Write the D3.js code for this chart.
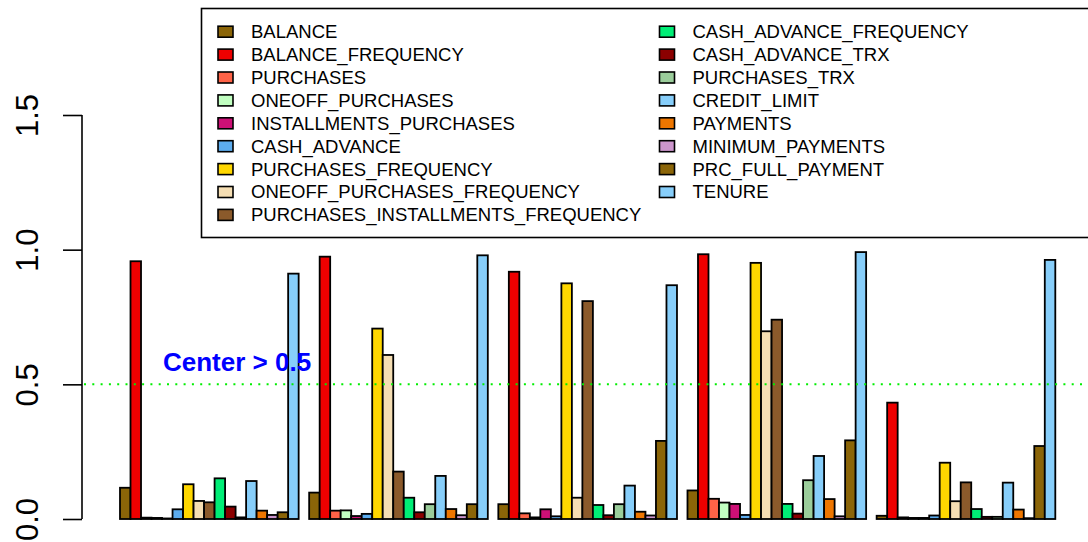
<!DOCTYPE html>
<html>
<head>
<meta charset="utf-8">
<script src="https://cdn.jsdelivr.net/npm/d3@7"></script>
<style>
  html, body { margin: 0; padding: 0; background: #fff; }
  svg { display: block; font-family: "Liberation Sans", Arial, Helvetica, sans-serif; }
</style>
</head>
<body>
<svg id="chart" width="1088" height="542"></svg>
<script>
const clusters = ["1", "2", "3", "4", "5"];
const variables = [
  "BALANCE", "BALANCE_FREQUENCY", "PURCHASES", "ONEOFF_PURCHASES",
  "INSTALLMENTS_PURCHASES", "CASH_ADVANCE", "PURCHASES_FREQUENCY",
  "ONEOFF_PURCHASES_FREQUENCY", "PURCHASES_INSTALLMENTS_FREQUENCY",
  "CASH_ADVANCE_FREQUENCY", "CASH_ADVANCE_TRX", "PURCHASES_TRX",
  "CREDIT_LIMIT", "PAYMENTS", "MINIMUM_PAYMENTS", "PRC_FULL_PAYMENT", "TENURE"
];
const colors = [
  "#8B6508", "#EE0000", "#FF6347", "#C1FFC1", "#CD1076", "#5CACEE",
  "#FFD700", "#F5DEB3", "#8B5A2B", "#00EE76", "#8B0000", "#9BCD9B",
  "#87CEFA", "#EE7600", "#CD96CD", "#8B6508", "#87CEFA"
];
const cluster1 = [0.116, 0.957, 0.005, 0.004, 0.002, 0.036, 0.129, 0.067, 0.062, 0.151, 0.046, 0.006, 0.141, 0.031, 0.015, 0.025, 0.911];
const cluster2 = [0.098, 0.974, 0.031, 0.032, 0.011, 0.019, 0.707, 0.609, 0.176, 0.079, 0.025, 0.055, 0.160, 0.037, 0.014, 0.055, 0.979];
const cluster3 = [0.055, 0.918, 0.021, 0.006, 0.036, 0.010, 0.875, 0.079, 0.809, 0.052, 0.014, 0.055, 0.124, 0.027, 0.013, 0.290, 0.868];
const cluster4 = [0.106, 0.983, 0.075, 0.061, 0.056, 0.015, 0.951, 0.697, 0.740, 0.056, 0.020, 0.144, 0.234, 0.074, 0.010, 0.292, 0.991];
const cluster5 = [0.012, 0.432, 0.006, 0.004, 0.004, 0.013, 0.209, 0.066, 0.136, 0.037, 0.008, 0.008, 0.135, 0.035, 0.003, 0.271, 0.962];
const yTicks = [0, 0.5, 1.0, 1.5];
const thresholdValue = 0.5;
const thresholdLabel = "Center > 0.5";

const seriesByCluster = [cluster1, cluster2, cluster3, cluster4, cluster5];

const svg = d3.select("#chart");

const y = d3.scaleLinear().domain([0, 1.5]).range([519, 115]);
const x0 = d3.scaleBand().domain(clusters).range([120, 1055.3]).paddingInner(1 / 18).paddingOuter(0);
const x1 = d3.scaleBand().domain(variables).range([0, x0.bandwidth()]).padding(0);

// bars
const groups = svg.append("g").selectAll("g")
  .data(clusters)
  .join("g")
  .attr("transform", d => `translate(${x0(d)},0)`);

groups.selectAll("rect")
  .data((c, i) => variables.map((v, j) => ({ v, j, value: seriesByCluster[i][j] })))
  .join("rect")
  .attr("x", d => x1(d.v))
  .attr("y", d => y(d.value))
  .attr("width", x1.bandwidth())
  .attr("height", d => y(0) - y(d.value))
  .attr("fill", d => colors[d.j])
  .attr("stroke", "#000")
  .attr("stroke-width", 1.8);

// y axis
const axis = d3.axisLeft(y).tickValues(yTicks).tickSize(19).tickFormat(d3.format(".1f"));
const ag = svg.append("g").attr("transform", "translate(82,0)").call(axis);
ag.select(".domain").attr("stroke", "#000").attr("stroke-width", 1.6).attr("d", `M0,${y(0)}V${y(1.5)}`);
ag.selectAll(".tick line").attr("stroke", "#000").attr("stroke-width", 1.6);
ag.selectAll(".tick text")
  .attr("x", null).attr("dy", null).attr("dx", null)
  .attr("transform", "translate(-44,0) rotate(-90)")
  .attr("text-anchor", "middle")
  .attr("font-size", 31)
  .attr("font-family", '"Liberation Sans", Arial, sans-serif')
  .attr("fill", "#000");

// threshold line
svg.append("line")
  .attr("x1", 84).attr("x2", 1088)
  .attr("y1", y(thresholdValue)).attr("y2", y(thresholdValue))
  .attr("stroke", "#00EE00")
  .attr("stroke-width", 2)
  .attr("stroke-dasharray", "2,6.3");

svg.append("text")
  .attr("x", 163)
  .attr("y", y(thresholdValue) - 13)
  .attr("fill", "#0000FF")
  .attr("font-weight", "bold")
  .attr("font-size", 26)
  .text(thresholdLabel);

// legend
const legend = svg.append("g");
legend.append("rect")
  .attr("x", 201.5).attr("y", 8.5)
  .attr("width", 1000).attr("height", 229)
  .attr("fill", "#fff")
  .attr("stroke", "#000")
  .attr("stroke-width", 1.6);

const rowH = 22.9;
const items = legend.selectAll("g.item")
  .data(variables.map((v, i) => ({ v, i })))
  .join("g")
  .attr("class", "item")
  .attr("transform", d => {
    const col = d.i < 9 ? 0 : 1;
    const row = d.i < 9 ? d.i : d.i - 9;
    return `translate(${218 + col * 441.5},${31.7 + row * rowH})`;
  });

items.append("rect")
  .attr("x", 0).attr("y", -5.5)
  .attr("width", 15).attr("height", 11)
  .attr("fill", d => colors[d.i])
  .attr("stroke", "#000")
  .attr("stroke-width", 1.6);

items.append("text")
  .attr("x", 33)
  .attr("y", 0)
  .attr("dy", "0.35em")
  .attr("font-size", 18.5)
  .attr("fill", "#000")
  .text(d => d.v);
</script>
</body>
</html>
